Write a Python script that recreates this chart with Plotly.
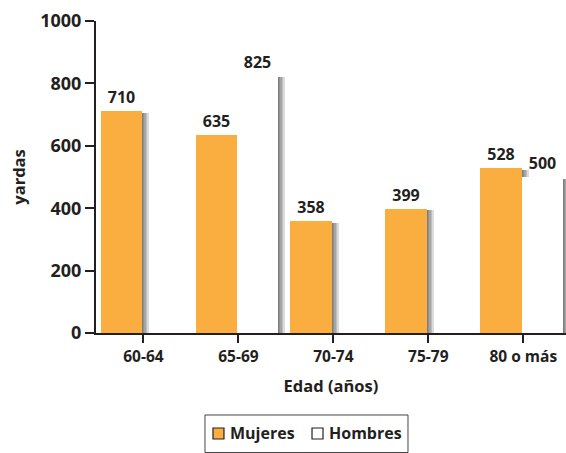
import plotly.graph_objects as go

categories = ["60-64", "65-69", "70-74", "75-79", "80 o más"]
mujeres = [710, 635, 358, 399, 528]
hombres = [0, 825, 0, 0, 500]
y_ticks = [0, 200, 400, 600, 800, 1000]
series_names = ["Mujeres", "Hombres"]

ORANGE = "#FBAE40"
DARK = "#231F20"
FONT = "Open Sans"

x_idx = list(range(len(categories)))
bar_w = 0.434
off_m = -0.452
off_h = off_m + bar_w
px = 1 / 95.0  # one pixel in category units

fig = go.Figure()

# soft shadows (drawn first)
for vals, off in ((mujeres, off_m), (hombres, off_h)):
    for k in (1.0, 2.5, 4.0, 5.5, 7.0):
        fig.add_trace(go.Bar(
            x=x_idx, y=[max(v - 5, 0) for v in vals], offset=off + k * px, width=bar_w,
            marker=dict(color="rgba(40,40,40,0.16)", line=dict(width=0)),
            showlegend=False, hoverinfo="skip"))

lab_font = dict(family=FONT, size=16, color=DARK, weight="bold")
fig.add_trace(go.Bar(
    x=x_idx, y=mujeres, offset=off_m, width=bar_w,
    marker=dict(color=ORANGE, line=dict(width=0)),
    text=[str(v) if v else "" for v in mujeres], textposition="outside",
    textfont=lab_font, cliponaxis=False, showlegend=False, hoverinfo="skip"))
fig.add_trace(go.Bar(
    x=x_idx, y=hombres, offset=off_h, width=bar_w,
    marker=dict(color="white", line=dict(width=0)),
    text=[str(v) if v else "" for v in hombres], textposition="outside",
    textfont=lab_font, cliponaxis=False, showlegend=False, hoverinfo="skip"))

# manual legend (box, swatches, labels) in paper coordinates
shapes = [
    dict(type="rect", xref="paper", yref="paper", x0=0.2319, x1=0.6638, y0=-0.383, y1=-0.2628,
         line=dict(color="#444", width=1), fillcolor="white", layer="below"),
    dict(type="rect", xref="paper", yref="paper", x0=0.2489, x1=0.2723, y0=-0.3397, y1=-0.3045,
         line=dict(color=DARK, width=1.2), fillcolor=ORANGE),
    dict(type="rect", xref="paper", yref="paper", x0=0.4596, x1=0.4830, y0=-0.3397, y1=-0.3045,
         line=dict(color=DARK, width=1.2), fillcolor="white"),
]
annotations = [
    dict(text=series_names[0], xref="paper", yref="paper", x=0.2800, y=-0.3221,
         xanchor="left", yanchor="middle", showarrow=False,
         font=dict(family=FONT, size=16, color=DARK, weight="bold")),
    dict(text=series_names[1], xref="paper", yref="paper", x=0.4905, y=-0.3221,
         xanchor="left", yanchor="middle", showarrow=False,
         font=dict(family=FONT, size=16, color=DARK, weight="bold")),
]

fig.update_layout(
    width=566, height=453,
    margin=dict(l=96, r=0, t=21, b=120, autoexpand=False),
    plot_bgcolor="white", paper_bgcolor="white",
    barmode="overlay", bargap=0,
    font=dict(family=FONT, color=DARK),
    showlegend=False,
    shapes=shapes, annotations=annotations,
    xaxis=dict(
        tickmode="array", tickvals=x_idx, ticktext=categories,
        range=[-0.5, 4.45], showgrid=False, zeroline=False,
        showline=True, linecolor=DARK, linewidth=2,
        ticks="outside", tickson="boundaries", ticklen=8, tickwidth=2, tickcolor=DARK,
        tickfont=dict(family=FONT, size=15.5, color=DARK, weight="bold"),
        title=dict(text="Edad (años)", standoff=15,
                   font=dict(family=FONT, size=16.5, color=DARK, weight="bold")),
    ),
    yaxis=dict(
        range=[0, 1000], tickvals=y_ticks, showgrid=False, zeroline=False,
        showline=True, linecolor=DARK, linewidth=2,
        ticks="outside", ticklen=9, tickwidth=2, tickcolor=DARK,
        tickfont=dict(family=FONT, size=18, color=DARK, weight="bold"),
        title=dict(text="yardas", standoff=10,
                   font=dict(family=FONT, size=16.5, color=DARK, weight="bold")),
    ),
)

fig.write_html("out.html")
